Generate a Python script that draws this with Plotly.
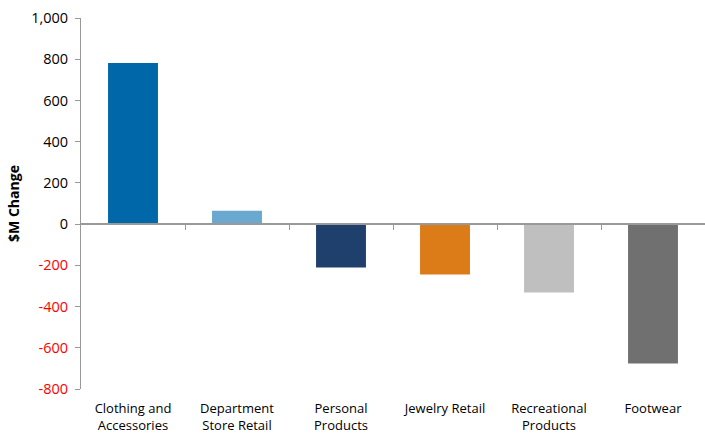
import plotly.graph_objects as go

categories = ["Clothing and<br>Accessories", "Department<br>Store Retail", "Personal<br>Products",
              "Jewelry Retail", "Recreational<br>Products", "Footwear"]
changes = [782, 65, -211, -245, -332, -676]
bar_colors = ["#0068A9", "#6AA8D0", "#1F3F6D", "#DB7C19", "#BFBFBF", "#707070"]
y_ticks = [1000, 800, 600, 400, 200, 0, -200, -400, -600, -800]

y_min, y_max = -800, 1000
FONT = "Open Sans"

tick_text = [
    f"<span style='color:#FF0000'>{v:,}</span>" if v < 0 else f"{v:,}" for v in y_ticks
]

fig = go.Figure()
fig.add_trace(go.Bar(
    x=list(range(len(categories))),
    y=changes,
    marker=dict(color=bar_colors, line=dict(width=0)),
    width=0.48,
    showlegend=False,
))
# invisible trace on the overlay axis that carries the zero-line ticks
fig.add_trace(go.Scatter(x=[-0.5, len(categories) - 0.5], y=[0, 0], xaxis="x2",
                         mode="lines", line=dict(width=0), hoverinfo="skip", showlegend=False))

zero_pos = (0 - y_min) / (y_max - y_min)

fig.update_layout(
    width=705, height=434,
    margin=dict(l=81, r=0, t=18, b=45),
    paper_bgcolor="white", plot_bgcolor="white",
    font=dict(family=FONT, size=13, color="black"),
    xaxis=dict(
        range=[-0.5, len(categories) - 0.5],
        tickvals=list(range(len(categories))), ticktext=categories,
        showline=False, showgrid=False, zeroline=False, automargin=False,
        ticks="outside", ticklen=7, tickcolor="rgba(0,0,0,0)",
        tickfont=dict(family=FONT, size=13),
    ),
    xaxis2=dict(
        overlaying="x", anchor="free", position=zero_pos,
        range=[-0.5, len(categories) - 0.5],
        tickvals=[i + 0.5 for i in range(len(categories) - 1)],
        showticklabels=False, showgrid=False, zeroline=False, automargin=False,
        showline=True, linecolor="#999999", linewidth=1.5,
        ticks="outside", ticklen=5, tickcolor="#999999", tickwidth=1,
    ),
    yaxis=dict(
        range=[y_min, y_max],
        tickvals=y_ticks, ticktext=tick_text,
        showline=True, linecolor="#999999", linewidth=1,
        ticks="outside", ticklen=5, tickcolor="#999999",
        ticklabelstandoff=4, automargin=False,
        showgrid=False, zeroline=False,
        tickfont=dict(family=FONT, size=14.5),
        title=dict(text="<b>$M Change</b>", font=dict(family=FONT, size=14), standoff=8),
    ),
)

fig.write_html("out.html")
